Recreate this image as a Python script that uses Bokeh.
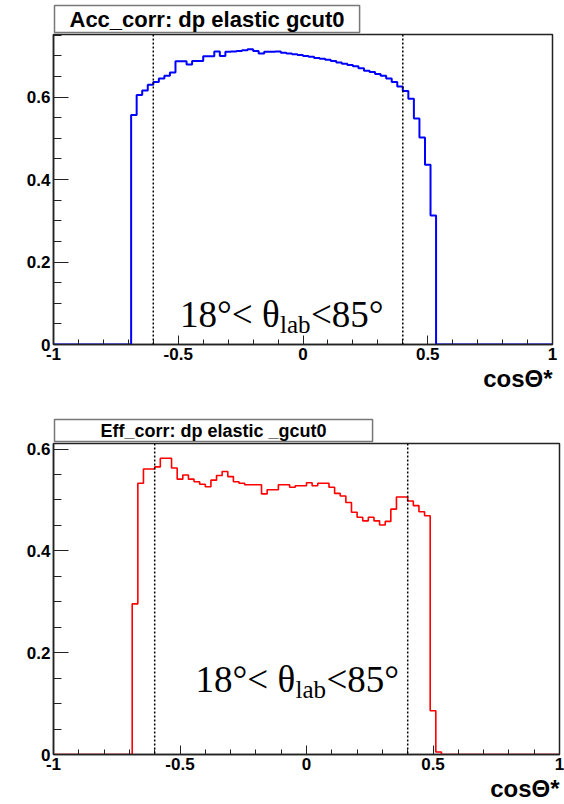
import numpy as np
from bokeh.plotting import figure
from bokeh.layouts import column
from bokeh.models import (Span, Label, Title, SingleIntervalTicker,
                          CustomJSTickFormatter, Range1d)
from bokeh.embed import file_html
from bokeh.resources import INLINE

# ---- data -----------------------------------------------------------
n_bins = 90
x_min, x_max = -1.0, 1.0
first_bin = 14  # index of the first filled bin

# Acceptance correction (bins 14..68)
acc_values = [0.557, 0.605, 0.616, 0.630, 0.637, 0.645, 0.652, 0.660, 0.687, 0.687,
              0.679, 0.688, 0.688, 0.699, 0.699, 0.711, 0.700, 0.710, 0.711, 0.712,
              0.714, 0.716, 0.712, 0.706, 0.710, 0.710, 0.711, 0.708, 0.706, 0.704,
              0.702, 0.700, 0.698, 0.695, 0.693, 0.691, 0.688, 0.684, 0.681, 0.678,
              0.675, 0.670, 0.664, 0.661, 0.656, 0.652, 0.645, 0.637, 0.626, 0.615,
              0.596, 0.548, 0.502, 0.436, 0.313]

# Efficiency correction (bins 14..68)
eff_values = [0.296, 0.533, 0.561, 0.561, 0.565, 0.582, 0.582, 0.563, 0.541, 0.549,
              0.541, 0.536, 0.531, 0.526, 0.539, 0.548, 0.556, 0.546, 0.536, 0.533,
              0.530, 0.530, 0.530, 0.512, 0.520, 0.520, 0.530, 0.530, 0.525, 0.528,
              0.528, 0.534, 0.528, 0.533, 0.533, 0.525, 0.513, 0.508, 0.495, 0.476,
              0.466, 0.459, 0.466, 0.459, 0.451, 0.458, 0.482, 0.506, 0.506, 0.498,
              0.489, 0.477, 0.469, 0.086, 0.005]

cut_lines = [-0.6, 0.4]
acc_title = "Acc_corr: dp elastic gcut0"
eff_title = "Eff_corr: dp elastic _gcut0"
x_label = "cos\u0398*"
note_main1 = "18\u00b0< \u03b8"
note_sub = "lab"
note_main2 = "<85\u00b0"
acc_ymax = 0.752
eff_ymax = 0.611


def full(vals):
    arr = np.zeros(n_bins)
    arr[first_bin:first_bin + len(vals)] = vals
    return arr


edges = np.linspace(x_min, x_max, n_bins + 1)

SANS = "Liberation Sans"
SERIF = "Liberation Serif"
FMT = CustomJSTickFormatter(code="return String(parseFloat(tick.toFixed(2)));")


def make_panel(values, color, lw, title, title_size, title_pad,
               y_max, frame_w, right_border, top_border, frame_h,
               bottom_border, note_x, note_y):
    p = figure(width=53 + frame_w + right_border,
               height=top_border + frame_h + bottom_border,
               frame_width=frame_w, frame_height=frame_h,
               x_range=Range1d(x_min, x_max),
               y_range=Range1d(0, y_max), output_backend="svg",
               toolbar_location=None, min_border_left=53,
               min_border_right=right_border, min_border_top=top_border,
               min_border_bottom=bottom_border)
    p.grid.visible = False
    p.outline_line_color = "#222222"
    p.outline_line_width = 1.5
    p.background_fill_color = "white"
    p.border_fill_color = "white"

    ax = p.xaxis[0]
    ax.ticker = SingleIntervalTicker(interval=0.5, num_minor_ticks=5)
    ax.major_tick_in = 9
    ax.major_tick_out = 0
    ax.minor_tick_in = 5
    ax.minor_tick_out = 0
    ay = p.yaxis[0]
    ay.ticker = SingleIntervalTicker(interval=0.2, num_minor_ticks=4)
    ay.major_tick_in = 15
    ay.major_tick_out = 0
    ay.minor_tick_in = 8
    ay.minor_tick_out = 0
    for a in (ax, ay):
        a.formatter = FMT
        a.axis_line_color = "#222222"
        a.axis_line_width = 1.5
        a.major_tick_line_color = "#222222"
        a.minor_tick_line_color = "#222222"
        a.major_label_text_font = SANS
        a.major_label_text_font_style = "bold"
        a.major_label_text_font_size = "17px"
        a.major_label_text_color = "black"
        a.major_label_standoff = 3

    arr = full(values)
    p.step(x=edges, y=np.append(arr, arr[-1]), mode="after",
           line_color=color, line_width=lw)

    for loc in cut_lines:
        p.add_layout(Span(location=loc, dimension="height", line_color="black",
                          line_dash="2 2", line_width=1.5))

    # title box (ROOT style)
    p.add_layout(Title(text=title, align="left", offset=1,
                       standoff=4, text_font=SANS, text_font_style="bold",
                       text_font_size=title_size, text_color="black",
                       background_fill_color="white",
                       border_line_color="#777777", border_line_width=1.5,
                       padding=(title_pad, 1)), "above")

    # x-axis title
    p.add_layout(Title(text=x_label, align="right", offset=0, standoff=1,
                       text_font=SANS, text_font_style="bold",
                       text_font_size="24px", text_color="black"), "below")

    # angular-cut annotation
    common = dict(x_units="screen", y_units="screen", text_font=SERIF,
                  text_color="black", text_baseline="alphabetic")
    p.add_layout(Label(x=note_x, y=note_y, text=note_main1,
                       text_font_size="37px", **common))
    p.add_layout(Label(x=note_x + 100, y=note_y - 10, text=note_sub,
                       text_font_size="25px", **common))
    p.add_layout(Label(x=note_x + 131, y=note_y, text=note_main2,
                       text_font_size="37px", **common))
    return p


p1 = make_panel(acc_values, "#0000ff", 2, acc_title, "22px", 15,
                acc_ymax, 499, 12, 34, 310, 58, 126.5, 30)
p2 = make_panel(eff_values, "#ff0000", 1.6, eff_title, "18px", 46,
                eff_ymax, 506, 5, 41, 311, 50, 142, 75)

layout = column(p1, p2)
open("out.html", "w").write(file_html(layout, INLINE))
